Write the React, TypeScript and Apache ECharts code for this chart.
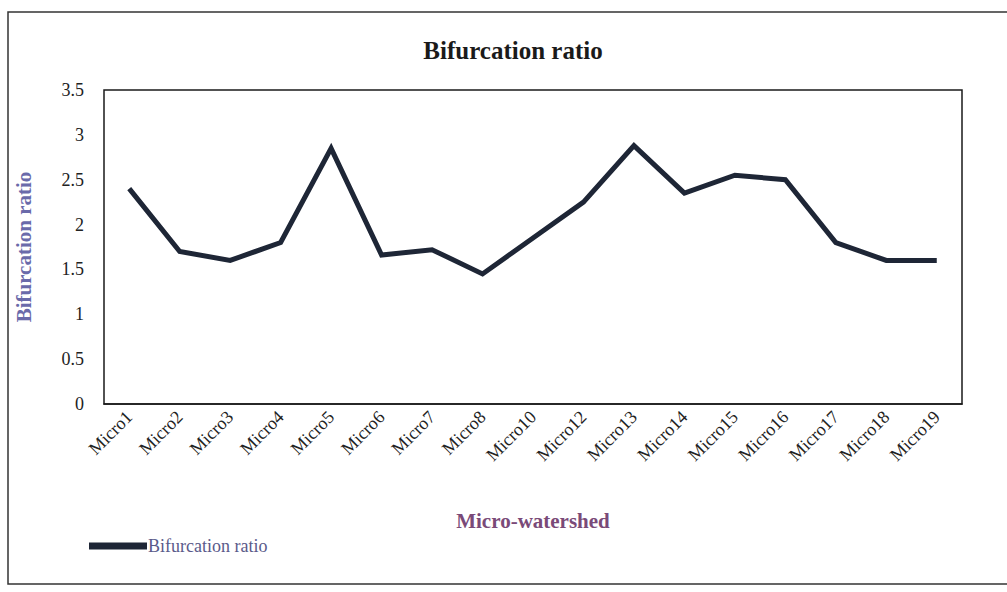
import React, { useEffect, useRef } from "react";
import * as echarts from "echarts";

const categories = ["Micro1","Micro2","Micro3","Micro4","Micro5","Micro6","Micro7","Micro8","Micro10","Micro12","Micro13","Micro14","Micro15","Micro16","Micro17","Micro18","Micro19"];
const bifurcationRatio = [2.4, 1.7, 1.6, 1.8, 2.85, 1.66, 1.72, 1.45, 1.85, 2.25, 2.88, 2.35, 2.55, 2.5, 1.8, 1.6, 1.6];
const yTicks = { min: 0, max: 3.5, interval: 0.5 };

const serif = "Liberation Serif";

export default function App() {
  const ref = useRef<HTMLDivElement>(null);
  useEffect(() => {
    if (!ref.current) return;
    const chart = echarts.init(ref.current, null, { renderer: "svg" });
    chart.setOption({
      animation: false,
      backgroundColor: "#ffffff",
      textStyle: { fontFamily: serif },
      title: {
        text: "Bifurcation ratio",
        left: 508,
        top: 33,
        textAlign: "center",
        textStyle: { fontFamily: serif, fontSize: 25, fontWeight: "bold", color: "#1a1a1a" },
      },
      legend: {
        left: 84,
        top: 532,
        itemWidth: 58,
        itemHeight: 7,
        itemGap: 0,
        data: [{ name: "Bifurcation ratio", icon: "rect", textStyle: { fontFamily: serif, fontSize: 18, color: "#5a5a8a" } }],
        textStyle: { fontFamily: serif, fontSize: 18, color: "#5a5a8a", padding: [0, 0, 0, -4] },
      },
      grid: {
        left: 104,
        right: 45,
        top: 90,
        bottom: 188,
        show: true,
        borderColor: "#1a1a1a",
        borderWidth: 1.5,
      },
      xAxis: {
        type: "category",
        data: categories,
        boundaryGap: true,
        name: "Micro-watershed",
        nameLocation: "middle",
        nameGap: 106,
        nameTextStyle: { fontFamily: serif, fontSize: 21, fontWeight: "bold", color: "#7a4a78" },
        axisLine: { lineStyle: { color: "#1a1a1a", width: 1.5 } },
        axisTick: { show: false },
        axisLabel: { rotate: 45, fontFamily: serif, fontSize: 18, color: "#222", margin: 10, interval: 0 },
        splitLine: { show: false },
      },
      yAxis: {
        type: "value",
        min: yTicks.min,
        max: yTicks.max,
        interval: yTicks.interval,
        name: "Bifurcation ratio",
        nameLocation: "middle",
        nameGap: 70,
        nameTextStyle: { fontFamily: serif, fontSize: 21, fontWeight: "bold", color: "#6a6aaa" },
        axisLine: { show: false },
        axisTick: { show: false },
        splitLine: { show: false },
        axisLabel: { fontFamily: serif, fontSize: 18, color: "#222", margin: 20 },
      },
      series: [
        {
          name: "Bifurcation ratio",
          type: "line",
          data: bifurcationRatio,
          symbol: "none",
          lineStyle: { color: "#1e2636", width: 5, join: "miter" },
          itemStyle: { color: "#1e2636" },
        },
      ],
      graphic: [
        {
          type: "rect",
          shape: { x: 8, y: 12, width: 1010, height: 572 },
          style: { fill: "none", stroke: "#333", lineWidth: 1.5 },
          silent: true,
        },
      ],
    });
    return () => chart.dispose();
  }, []);
  return <div ref={ref} style={{ width: 1007, height: 592, position: "absolute", left: 0, top: 0 }} />;
}
